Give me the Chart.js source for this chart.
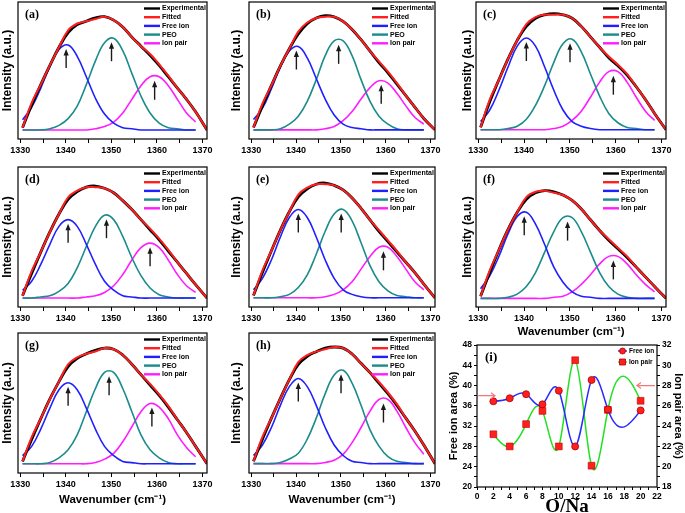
<!DOCTYPE html>
<html lang="en">
<head>
<meta charset="UTF-8">
<title>FTIR band deconvolution, PEO-NaX</title>
<style>
    body {
        margin: 0;
        width: 685px;
        height: 513px;
        overflow: hidden;
        background: #fff;
        position: relative;
    }
    canvas { position: absolute; }
</style>
</head>
<body>
<script src="https://cdn.jsdelivr.net/npm/chart.js"></script>
<script>
// ---- data (intensity normalised to the band maximum) ----
const wavenumber = [1330.5, 1332.5, 1334.5, 1336.5, 1338.5, 1340.5, 1342.5, 1344.5, 1346.5, 1348.5,
                    1350.5, 1352.5, 1354.5, 1356.5, 1358.5, 1360.5, 1362.5, 1364.5, 1366.5, 1368.5, 1371];

const expA  = [0.02,0.22,0.40,0.57,0.73,0.86,0.93,0.96,0.99,1.00,0.97,0.91,0.82,0.74,0.66,0.57,0.47,0.37,0.27,0.16,0];
const fitA  = [0.02,0.24,0.40,0.57,0.73,0.88,0.94,0.96,0.98,1.00,0.97,0.91,0.82,0.74,0.67,0.58,0.48,0.37,0.27,0.16,0];
const freeA = [0.09,0.20,0.37,0.56,0.71,0.75,0.65,0.47,0.28,0.14,0.06,0.02,0.01,0,0,0,0,0,0,0,null];
const peoA  = [0,0,0,0.01,0.04,0.10,0.21,0.40,0.61,0.77,0.81,0.70,0.50,0.30,0.15,0.06,0.02,0.01,0,0,null];
const pairA = [0,0,0,0,0,0,0,0,0.01,0.03,0.07,0.15,0.27,0.39,0.47,0.47,0.39,0.27,0.15,0.07,null];

const expB  = [0.02,0.21,0.39,0.56,0.71,0.84,0.93,0.98,1.00,0.99,0.95,0.88,0.79,0.69,0.59,0.50,0.40,0.30,0.20,0.10,0];
const fitB  = [0.02,0.23,0.39,0.56,0.71,0.86,0.94,0.98,0.99,0.99,0.95,0.88,0.79,0.69,0.60,0.51,0.41,0.30,0.20,0.10,0];
const freeB = [0.09,0.19,0.36,0.55,0.69,0.73,0.63,0.45,0.27,0.13,0.05,0.02,0.01,0,0,0,0,0,0,0,null];
const peoB  = [0,0,0,0.01,0.05,0.12,0.25,0.44,0.65,0.78,0.78,0.65,0.44,0.25,0.12,0.05,0.01,0,0,0,null];
const pairB = [0,0,0,0,0,0,0,0,0.01,0.03,0.08,0.16,0.27,0.37,0.43,0.41,0.32,0.21,0.11,0.05,null];

const expC  = [0.02,0.24,0.43,0.61,0.77,0.89,0.96,0.99,1.00,0.99,0.96,0.89,0.80,0.71,0.62,0.55,0.47,0.37,0.26,0.14,0];
const fitC  = [0.02,0.26,0.43,0.61,0.77,0.91,0.97,0.99,0.99,0.99,0.96,0.89,0.80,0.71,0.63,0.56,0.48,0.37,0.26,0.14,0];
const freeC = [0.07,0.17,0.34,0.54,0.72,0.79,0.72,0.54,0.34,0.17,0.07,0.03,0.01,0,0,0,0,0,0,0,null];
const peoC  = [0,0,0,0.01,0.03,0.09,0.21,0.38,0.58,0.74,0.78,0.67,0.48,0.29,0.14,0.06,0.02,0.01,0,0,null];
const pairC = [0,0,0,0,0,0,0,0,0.01,0.03,0.08,0.16,0.28,0.41,0.50,0.50,0.41,0.28,0.16,0.08,null];

const expD  = [0.02,0.22,0.41,0.59,0.75,0.88,0.95,0.99,1.00,0.98,0.94,0.87,0.79,0.70,0.61,0.52,0.42,0.32,0.22,0.12,0];
const fitD  = [0.02,0.24,0.41,0.59,0.75,0.90,0.96,0.99,0.99,0.98,0.94,0.87,0.79,0.70,0.62,0.53,0.43,0.32,0.22,0.12,0];
const freeD = [0.07,0.15,0.30,0.48,0.64,0.70,0.64,0.48,0.30,0.15,0.07,0.02,0.01,0,0,0,0,0,0,0,null];
const peoD  = [0,0,0.01,0.02,0.06,0.13,0.27,0.46,0.64,0.74,0.70,0.55,0.36,0.20,0.09,0.03,0.01,0,0,0,null];
const pairD = [0,0,0,0,0,0,0,0.01,0.02,0.05,0.11,0.21,0.34,0.45,0.49,0.45,0.34,0.21,0.11,0.05,null];

const expE  = [0.02,0.22,0.41,0.59,0.75,0.88,0.95,0.99,1.00,0.98,0.94,0.87,0.78,0.68,0.58,0.49,0.40,0.31,0.22,0.12,0];
const fitE  = [0.02,0.24,0.41,0.59,0.75,0.90,0.96,0.99,0.99,0.98,0.94,0.87,0.78,0.68,0.59,0.50,0.41,0.31,0.22,0.12,0];
const freeE = [0.07,0.17,0.33,0.53,0.70,0.77,0.70,0.53,0.33,0.17,0.07,0.03,0.01,0,0,0,0,0,0,0,null];
const peoE  = [0,0,0,0.01,0.03,0.09,0.20,0.38,0.58,0.73,0.77,0.67,0.48,0.28,0.14,0.06,0.02,0.01,0,0,null];
const pairE = [0,0,0,0,0,0,0,0,0.01,0.03,0.07,0.14,0.25,0.36,0.44,0.44,0.36,0.25,0.14,0.07,null];

const expF  = [0.02,0.24,0.45,0.64,0.80,0.92,0.98,1.00,0.99,0.96,0.91,0.83,0.73,0.63,0.54,0.46,0.38,0.29,0.20,0.11,0];
const fitF  = [0.02,0.26,0.45,0.64,0.80,0.94,0.99,1.00,0.98,0.96,0.91,0.83,0.73,0.63,0.55,0.47,0.39,0.29,0.20,0.11,0];
const freeF = [0.09,0.21,0.39,0.60,0.76,0.80,0.69,0.50,0.29,0.15,0.06,0.02,0.01,0,0,0,0,0,0,0,null];
const peoF  = [0,0,0,0.01,0.04,0.11,0.24,0.43,0.62,0.75,0.75,0.62,0.43,0.24,0.11,0.04,0.01,0,0,0,null];
const pairF = [0,0,0,0,0,0,0,0,0.01,0.02,0.06,0.13,0.22,0.32,0.39,0.39,0.32,0.22,0.13,0.06,null];

const expG  = [0.02,0.21,0.39,0.56,0.71,0.84,0.91,0.95,0.98,1.00,0.99,0.94,0.86,0.77,0.68,0.59,0.49,0.38,0.27,0.15,0];
const fitG  = [0.02,0.23,0.39,0.56,0.71,0.86,0.92,0.95,0.97,1.00,0.99,0.94,0.86,0.77,0.69,0.60,0.50,0.38,0.27,0.15,0];
const freeG = [0.07,0.15,0.30,0.48,0.64,0.70,0.64,0.48,0.30,0.15,0.07,0.02,0.01,0,0,0,0,0,0,0,null];
const peoG  = [0,0,0,0.01,0.05,0.12,0.25,0.45,0.65,0.79,0.79,0.65,0.45,0.25,0.12,0.05,0.01,0,0,0,null];
const pairG = [0,0,0,0,0,0,0,0,0.01,0.04,0.09,0.19,0.32,0.45,0.52,0.49,0.39,0.25,0.14,0.06,null];

const expH  = [0.02,0.21,0.39,0.56,0.72,0.85,0.92,0.96,0.99,1.00,0.99,0.94,0.86,0.78,0.69,0.60,0.50,0.39,0.28,0.16,0];
const fitH  = [0.02,0.23,0.39,0.56,0.72,0.87,0.93,0.96,0.98,1.00,0.99,0.94,0.86,0.78,0.70,0.61,0.51,0.39,0.28,0.16,0];
const freeH = [0.07,0.16,0.31,0.50,0.66,0.73,0.66,0.50,0.31,0.16,0.07,0.02,0.01,0,0,0,0,0,0,0,null];
const peoH  = [0,0,0,0.01,0.04,0.09,0.21,0.39,0.60,0.76,0.80,0.69,0.50,0.29,0.15,0.06,0.02,0.01,0,0,null];
const pairH = [0,0,0,0,0,0,0,0,0.01,0.03,0.08,0.18,0.31,0.45,0.55,0.55,0.45,0.31,0.18,0.08,null];

// panel (i): band areas vs O/Na ratio
const oNa = [2, 4, 6, 8, 10, 12, 14, 16, 20];
const freeIonArea = [36.9, 37.5, 38.3, 36.3, 39.0, 28.0, 41.1, 35.3, 35.1];   // left axis, %
const ionPairArea = [23.2, 22.0, 24.2, 25.5, 22.0, 30.5, 20.1, 25.6, 26.5];   // right axis, %
const freeAxisTicks = [20, 24, 28, 32, 36, 40, 44, 48];
const pairAxisTicks = [18, 20, 22, 24, 26, 28, 30, 32];
const pointerFree = [0.15, 2.2, 38];     // x from, x to, free-ion axis value
const pointerPair = [21.75, 19.55, 28];  // x from, x to, ion-pair axis value

// ---- look ----
const SANS = '"Liberation Sans", Arial, sans-serif';
const SERIF = '"Liberation Serif", "Times New Roman", serif';
const RED = '#ff1f1f', BLUE = '#2020ff', TEAL = '#1b8b8b', MAGENTA = '#ff1cff';
Chart.defaults.font.family = SANS;
Chart.defaults.color = '#000';

const cols = [
    { left: 0,   yw: 18, right: 207 },
    { left: 229, yw: 20, right: 435 },
    { left: 460, yw: 16, right: 666 }
];
const rows = [
    { top: 0,   pad: 2, bottom: 139 },
    { top: 163, pad: 4, bottom: 307 },
    { top: 329, pad: 4, bottom: 473 }
];

const panels = [
    { tag: '(a)', exp: expA, fit: fitA, free: freeA, peo: peoA, pair: pairA, col: 0, row: 0, yTop: 1.13 },
    { tag: '(b)', exp: expB, fit: fitB, free: freeB, peo: peoB, pair: pairB, col: 1, row: 0, yTop: 1.12 },
    { tag: '(c)', exp: expC, fit: fitC, free: freeC, peo: peoC, pair: pairC, col: 2, row: 0, yTop: 1.10 },
    { tag: '(d)', exp: expD, fit: fitD, free: freeD, peo: peoD, pair: pairD, col: 0, row: 1, yTop: 1.17 },
    { tag: '(e)', exp: expE, fit: fitE, free: freeE, peo: peoE, pair: pairE, col: 1, row: 1, yTop: 1.14 },
    { tag: '(f)', exp: expF, fit: fitF, free: freeF, peo: peoF, pair: pairF, col: 2, row: 1, yTop: 1.22, xTitle: true, xh: 38 },
    { tag: '(g)', exp: expG, fit: fitG, free: freeG, peo: peoG, pair: pairG, col: 0, row: 2, yTop: 1.13, xTitle: true, xh: 40 },
    { tag: '(h)', exp: expH, fit: fitH, free: freeH, peo: peoH, pair: pairH, col: 1, row: 2, yTop: 1.12, xTitle: true, xh: 40 }
];

function addCanvas(left, top, w, h) {
    const c = document.createElement('canvas');
    c.width = w; c.height = h;
    c.style.left = left + 'px';
    c.style.top = top + 'px';
    c.style.width = w + 'px';
    c.style.height = h + 'px';
    document.body.appendChild(c);
    return c;
}

function upArrow(ctx, x, tip, len) {
    ctx.beginPath();
    ctx.moveTo(x, tip + len);
    ctx.lineTo(x, tip + 5);
    ctx.stroke();
    ctx.beginPath();
    ctx.moveTo(x, tip);
    ctx.lineTo(x - 2.6, tip + 6.5);
    ctx.lineTo(x + 2.6, tip + 6.5);
    ctx.closePath();
    ctx.fill();
}

// frame, inner legend, panel letter and the peak arrows of a deconvolution panel
const deco = {
    id: 'deco',
    afterDatasetsDraw(chart, args, o) {
        const ctx = chart.ctx, a = chart.chartArea;
        ctx.save();
        ctx.strokeStyle = '#1a1a1a';
        ctx.fillStyle = '#1a1a1a';
        ctx.lineWidth = 1.4;
        [2, 3, 4].forEach(di => {
            const pts = chart.getDatasetMeta(di).data;
            const vals = chart.data.datasets[di].data;
            let k = 0;
            vals.forEach((v, i) => { if (v != null && v > vals[k]) k = i; });
            let x = pts[k].x;
            const y0 = vals[k - 1], y1 = vals[k], y2 = vals[k + 1];
            const den = y0 - 2 * y1 + y2;
            if (den) x += (pts[k + 1].x - pts[k].x) * (y0 - y2) / (2 * den);
            upArrow(ctx, x, pts[k].y + 4, 19);
        });

        ctx.font = 'bold 7px ' + SANS;
        ctx.textBaseline = 'middle';
        ctx.textAlign = 'left';
        [1, 0, 2, 3, 4].forEach((di, i) => {
            const ds = chart.data.datasets[di];
            const y = a.top + 6.5 + i * 8.7;
            ctx.strokeStyle = di === 1 ? '#000' : ds.borderColor;
            ctx.lineWidth = 2.4;
            ctx.beginPath();
            ctx.moveTo(a.right - 63, y);
            ctx.lineTo(a.right - 47, y);
            ctx.stroke();
            ctx.fillStyle = '#000';
            ctx.fillText(ds.label, a.right - 45, y);
        });

        ctx.font = 'bold 12px ' + SERIF;
        ctx.fillText(o.tag, a.left + 7, a.top + 13);

        ctx.strokeStyle = '#000';
        ctx.lineWidth = 1.2;
        ctx.strokeRect(a.left, a.top, a.right - a.left, a.bottom - a.top);
        ctx.restore();
    }
};

panels.forEach(p => {
    const c = cols[p.col], r = rows[p.row];
    const xh = p.xh || 20;
    const cv = addCanvas(c.left, r.top, c.right - c.left + 8, r.bottom - r.top + xh);
    const line = (label, data, color, width) => ({
        label, data, borderColor: color, borderWidth: width,
        pointRadius: 0, tension: 0.4, fill: false
    });
    new Chart(cv, {
        type: 'line',
        data: {
            labels: wavenumber,
            datasets: [
                line('Fitted', p.fit, RED, 2),
                line('Experimental', p.exp, '#000', 2.8),
                line('Free ion', p.free, BLUE, 1.6),
                line('PEO', p.peo, TEAL, 1.6),
                line('Ion pair', p.pair, MAGENTA, 1.6)
            ]
        },
        options: {
            responsive: false,
            animation: false,
            events: [],
            layout: { padding: { top: r.pad, right: 8, left: 0, bottom: 0 } },
            plugins: {
                legend: { display: false },
                tooltip: { enabled: false },
                deco: { tag: p.tag }
            },
            scales: {
                x: {
                    type: 'linear',
                    min: 1329.5,
                    max: 1371,
                    border: { display: false },
                    grid: { drawOnChartArea: false, tickLength: 4, tickColor: '#000', tickWidth: 1 },
                    ticks: {
                        stepSize: 5, includeBounds: false, autoSkip: false, maxRotation: 0,
                        padding: 2, color: '#000',
                        font: { size: 9, weight: 'bold' },
                        callback: v => v % 10 === 0 ? String(v) : ''
                    },
                    title: {
                        display: !!p.xTitle,
                        text: 'Wavenumber (cm\u207B\u00B9)',
                        font: { size: 11.5, weight: 'bold' },
                        padding: { top: 0, bottom: 6 }
                    },
                    afterFit: s => { s.height = xh; }
                },
                y: {
                    min: -0.08,
                    max: p.yTop,
                    border: { display: false },
                    grid: { display: false },
                    ticks: { display: false },
                    title: {
                        display: true,
                        text: 'Intensity (a.u.)',
                        font: { size: 12, weight: 'bold' },
                        padding: 0
                    },
                    afterFit: s => { s.width = c.yw; }
                }
            }
        },
        plugins: [deco]
    });
});

// ---- panel (i) ----
// Natural cubic spline through the points, fed to Chart.js as its own bezier control points.
const naturalSpline = {
    id: 'naturalSpline',
    beforeDatasetDraw(chart, args) {
        const line = args.meta.dataset, pts = args.meta.data;
        const n = pts.length;
        if (!line || n < 3) return;
        const h = [], s = [];
        for (let i = 0; i < n - 1; i++) {
            h[i] = pts[i + 1].x - pts[i].x;
            s[i] = (pts[i + 1].y - pts[i].y) / h[i];
        }
        const M = new Array(n).fill(0), b = [], d = [];
        for (let i = 1; i < n - 1; i++) {
            b[i] = 2 * (h[i - 1] + h[i]);
            d[i] = 6 * (s[i] - s[i - 1]);
        }
        for (let i = 2; i < n - 1; i++) {
            const w = h[i - 1] / b[i - 1];
            b[i] -= w * h[i - 1];
            d[i] -= w * d[i - 1];
        }
        for (let i = n - 2; i >= 1; i--) M[i] = (d[i] - h[i] * M[i + 1]) / b[i];
        const dy = [];
        for (let i = 0; i < n - 1; i++) dy[i] = s[i] - h[i] * (2 * M[i] + M[i + 1]) / 6;
        dy[n - 1] = s[n - 2] + h[n - 2] * (M[n - 2] + 2 * M[n - 1]) / 6;
        pts.forEach((p, i) => {
            const hb = i > 0 ? h[i - 1] : 0, ha = i < n - 1 ? h[i] : 0;
            p.cp1x = p.x - hb / 3; p.cp1y = p.y - dy[i] * hb / 3;
            p.cp2x = p.x + ha / 3; p.cp2y = p.y + dy[i] * ha / 3;
        });
        line._pointsUpdated = true;
    }
};

function sideArrow(ctx, x1, x2, y) {
    const dir = Math.sign(x2 - x1);
    ctx.beginPath();
    ctx.moveTo(x1, y); ctx.lineTo(x2, y);
    ctx.moveTo(x2 - dir * 4, y - 3); ctx.lineTo(x2, y); ctx.lineTo(x2 - dir * 4, y + 3);
    ctx.stroke();
}

const decoI = {
    id: 'decoI',
    afterDatasetsDraw(chart) {
        const ctx = chart.ctx, a = chart.chartArea, sc = chart.scales;
        ctx.save();
        ctx.strokeStyle = '#f27878';
        ctx.lineWidth = 1.2;
        sideArrow(ctx, sc.x.getPixelForValue(pointerFree[0]), sc.x.getPixelForValue(pointerFree[1]),
                  sc.yL.getPixelForValue(pointerFree[2]));
        sideArrow(ctx, sc.x.getPixelForValue(pointerPair[0]), sc.x.getPixelForValue(pointerPair[1]),
                  sc.yR.getPixelForValue(pointerPair[2]));

        ctx.font = 'bold 6.5px ' + SANS;
        ctx.textBaseline = 'middle';
        ctx.textAlign = 'left';
        chart.data.datasets.forEach((ds, i) => {
            const y = a.top + 6 + i * 11;
            const x0 = a.right - 39, x1 = a.right - 30, xm = (x0 + x1) / 2;
            ctx.strokeStyle = ds.borderColor;
            ctx.lineWidth = 1.4;
            ctx.beginPath(); ctx.moveTo(x0, y); ctx.lineTo(x1, y); ctx.stroke();
            ctx.fillStyle = RED;
            ctx.strokeStyle = '#b00000';
            ctx.lineWidth = 0.8;
            ctx.beginPath();
            if (ds.pointStyle === 'rect') ctx.rect(xm - 3, y - 3, 6, 6);
            else ctx.arc(xm, y, 3, 0, Math.PI * 2);
            ctx.fill(); ctx.stroke();
            ctx.fillStyle = '#000';
            ctx.fillText(ds.label, a.right - 28, y);
        });

        ctx.font = 'bold 13px ' + SERIF;
        ctx.fillText('(i)', a.left + 8, a.top + 13);

        ctx.strokeStyle = '#000';
        ctx.lineWidth = 1.2;
        ctx.strokeRect(a.left, a.top, a.right - a.left, a.bottom - a.top);
        ctx.restore();
    }
};

const cvI = addCanvas(447, 337, 238, 180);
const tickFont = { size: 8.5, weight: 'bold' };
new Chart(cvI, {
    type: 'line',
    data: {
        datasets: [
            {
                label: 'Free ion',
                data: oNa.map((x, i) => ({ x, y: freeIonArea[i] })),
                yAxisID: 'yL',
                borderColor: '#2a2aff', borderWidth: 1.5, tension: 0.4,
                pointStyle: 'circle', pointRadius: 3.5,
                pointBackgroundColor: RED, pointBorderColor: '#b00000', pointBorderWidth: 0.8
            },
            {
                label: 'Ion pair',
                data: oNa.map((x, i) => ({ x, y: ionPairArea[i] })),
                yAxisID: 'yR',
                borderColor: '#22e022', borderWidth: 1.5, tension: 0.4,
                pointStyle: 'rect', pointRadius: 4.8,
                pointBackgroundColor: RED, pointBorderColor: '#c00000', pointBorderWidth: 0.6
            }
        ]
    },
    options: {
        responsive: false,
        animation: false,
        events: [],
        layout: { padding: { top: 8, right: 0, left: 0, bottom: 0 } },
        plugins: { legend: { display: false }, tooltip: { enabled: false } },
        scales: {
            x: {
                type: 'linear', min: 0, max: 22,
                border: { display: false },
                grid: { drawOnChartArea: false, tickLength: 3, tickColor: '#000' },
                ticks: {
                    stepSize: 1, autoSkip: false, maxRotation: 0, padding: 2, font: tickFont,
                    callback: v => v % 2 === 0 ? String(v) : ''
                },
                title: {
                    display: true, text: 'O/Na',
                    font: { family: SERIF, size: 19, weight: 'bold', lineHeight: 1 },
                    padding: 0
                },
                afterFit: s => { s.height = 30; }
            },
            yL: {
                position: 'left',
                min: freeAxisTicks[0], max: freeAxisTicks[freeAxisTicks.length - 1],
                border: { display: false },
                grid: { drawOnChartArea: false, tickLength: 3, tickColor: '#000' },
                ticks: {
                    stepSize: 2, autoSkip: false, padding: 2, font: tickFont,
                    callback: v => freeAxisTicks.includes(v) ? String(v) : ''
                },
                title: {
                    display: true, text: 'Free ion area (%)',
                    font: { size: 11, weight: 'bold' }, padding: 0
                },
                afterFit: s => { s.width = 30; }
            },
            yR: {
                position: 'right',
                min: pairAxisTicks[0], max: pairAxisTicks[pairAxisTicks.length - 1],
                border: { display: false },
                grid: { drawOnChartArea: false, tickLength: 3, tickColor: '#000' },
                ticks: {
                    stepSize: 1, autoSkip: false, padding: 2, font: tickFont,
                    callback: v => pairAxisTicks.includes(v) ? String(v) : ''
                },
                title: {
                    display: true, text: 'Ion pair area (%)',
                    font: { size: 11, weight: 'bold' }, padding: 0
                },
                afterFit: s => { s.width = 28; }
            }
        }
    },
    plugins: [naturalSpline, decoI]
});
</script>
</body>
</html>
